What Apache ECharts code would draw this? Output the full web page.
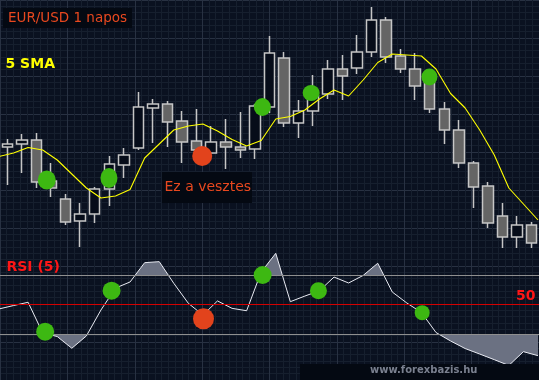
<!DOCTYPE html>
<html>
<head>
<meta charset="utf-8">
<script src="https://cdn.jsdelivr.net/npm/echarts@6/dist/echarts.min.js"></script>
<style>
html,body{margin:0;padding:0;background:#0a1120;}
#chart{width:539px;height:380px;}
</style>
</head>
<body>
<div id="chart"></div>
<script>
// ---- Price candles (EUR/USD daily) ----
const candleOpen  = [1.3003,1.3006,1.3010,1.2969,1.2951,1.2929,1.2936,1.2961,1.2985,1.3002,1.3042,1.3046,1.3029,1.3009,1.2997,1.3008,1.3003,1.3001,1.3043,1.3092,1.3027,1.3039,1.3056,1.3081,1.3082,1.3098,1.3130,1.3094,1.3081,1.3072,1.3041,1.3020,1.2987,1.2964,1.2934,1.2913,1.2925];
const candleClose = [1.3006,1.3010,1.2968,1.2962,1.2928,1.2936,1.2961,1.2986,1.2995,1.3043,1.3046,1.3028,1.3008,1.3000,1.3008,1.3003,1.3000,1.3044,1.3097,1.3027,1.3039,1.3054,1.3081,1.3074,1.3098,1.3130,1.3093,1.3081,1.3064,1.3041,1.3020,1.2987,1.2963,1.2927,1.2913,1.2925,1.2907];
const candleLow   = [1.2965,1.2977,1.2962,1.2953,1.2925,1.2903,1.2927,1.2944,1.2972,1.3000,1.3007,1.3003,1.2987,1.2990,1.2996,1.2981,1.2992,1.2991,1.3037,1.3023,1.3012,1.3024,1.3051,1.3050,1.3076,1.3093,1.3087,1.3077,1.3050,1.3037,1.3006,1.2982,1.2942,1.2922,1.2902,1.2902,1.2902];
const candleHigh  = [1.3011,1.3016,1.3017,1.2987,1.2956,1.2947,1.2963,1.2994,1.3002,1.3058,1.3051,1.3049,1.3039,1.3041,1.3024,1.3031,1.3038,1.3046,1.3114,1.3098,1.3050,1.3075,1.3090,1.3095,1.3115,1.3143,1.3133,1.3101,1.3097,1.3078,1.3048,1.3030,1.2989,1.2968,1.2947,1.2934,1.2928];

// ---- 5 SMA and RSI(5), first value belongs to the bar before the first candle ----
const lineStartIndex = -1;
const smaValues = [1.29935,1.2997,1.30025,1.3000,1.2990,1.2976,1.2962,1.2952,1.2954,1.29605,1.2992,1.3006,1.3020,1.3024,1.3026,1.3019,1.30105,1.3004,1.30095,1.3031,1.30335,1.3040,1.3051,1.3060,1.3054,1.3070,1.30875,1.3096,1.3095,1.3094,1.3081,1.30565,1.3042,1.3020,1.2995,1.2962,1.2946,1.2930];
const rsiValues = [47.1,49.4,51.6,30.9,28.5,20.6,28.9,46.4,61.2,65.3,78.3,79.0,64.4,50.9,43.0,52.5,47.5,45.9,72.0,84.6,52.0,55.8,59.4,68.6,64.6,69.7,77.9,58.5,51.1,44.7,31.2,25.5,20.4,16.7,12.9,9.0,18.3,15.6];
const rsiLevels = [70, 30];
const rsiMid = 50;

// ---- Signal markers ----
const priceSignalX = [2.28, 6.55, 17.08, 20.43, 28.55];
const priceSignalY = [1.2970, 1.2972, 1.3043, 1.3057, 1.3073];
const priceLoserX = [12.95];
const priceLoserY = [1.2994];
const rsiSignalX = [2.17, 6.73, 17.1, 20.93, 28.05];
const rsiSignalY = [31.8, 59.4, 70.0, 59.4, 44.6];
const rsiLoserX = [13.04];
const rsiLoserY = [40.5];

// ---- marker sizes (style) ----
const priceSignalSize = [[18,19],[17,20],[17,18],[17,16],[16,17]];
const rsiSignalSize = [18,18,18,17,15];

const days = candleOpen.map((_, i) => String(i + 1));
const candles = candleOpen.map((o, i) => [o, candleClose[i], candleLow[i], candleHigh[i]]);
const smaData = smaValues.map((v, j) => [j + lineStartIndex, v]);
const rsiData = rsiValues.map((v, j) => [j + lineStartIndex, v]);

const GREEN = '#3db812';
const RED = '#e2431c';
const hiddenVal = (grid, min, max) => ({gridIndex: grid, type: 'value', min: min, max: max, show: false});

const chart = echarts.init(document.getElementById('chart'));
chart.setOption({
  backgroundColor: '#0a1120',
  animation: false,
  grid: [
    {left: -23.2, right: -23.4, top: -16.7, height: 440},
    {left: -2, right: 0, top: 0, height: 250},
    {left: -2, right: 0, top: 230.5, height: 148.3},
    {left: -2, right: 0, top: 230.5, height: 44.49},
    {left: -2, right: 0, top: 334.3, height: 44.49}
  ],
  xAxis: [
    {gridIndex: 0, type: 'value', min: 0, max: 8, interval: 1,
     axisLine: {show: false}, axisTick: {show: false}, axisLabel: {show: false},
     splitLine: {show: true, lineStyle: {color: '#283142', width: 1}},
     minorTick: {show: false, splitNumber: 10},
     minorSplitLine: {show: true, lineStyle: {color: '#161f2e', width: 1}}},
    {gridIndex: 1, type: 'category', data: days, boundaryGap: true, show: false},
    hiddenVal(1, -0.93, 36.07),
    hiddenVal(2, -0.93, 36.07),
    hiddenVal(3, -0.93, 36.07),
    hiddenVal(4, -0.93, 36.07)
  ],
  yAxis: [
    {gridIndex: 0, type: 'value', min: 0, max: 10, interval: 1,
     axisLine: {show: false}, axisTick: {show: false}, axisLabel: {show: false},
     splitLine: {show: true, lineStyle: {color: '#283142', width: 1}},
     minorTick: {show: false, splitNumber: 6},
     minorSplitLine: {show: true, lineStyle: {color: '#161f2e', width: 1}}},
    hiddenVal(1, 1.2900, 1.3150),
    hiddenVal(2, 0, 100),
    hiddenVal(3, 70, 100),
    hiddenVal(4, 0, 30)
  ],
  series: [
    {type: 'candlestick', xAxisIndex: 1, yAxisIndex: 1, data: candles, barWidth: 11,
     itemStyle: {color: '#060c19', color0: '#656565', borderColor: '#c6c6c6', borderColor0: '#c6c6c6', borderWidth: 1.5},
     z: 3},
    {type: 'line', xAxisIndex: 2, yAxisIndex: 1, data: smaData, showSymbol: false,
     lineStyle: {color: '#ffff00', width: 1.1}, z: 4},
    {type: 'scatter', xAxisIndex: 2, yAxisIndex: 1, symbol: 'circle',
     data: priceSignalX.map((x, i) => ({value: [x, priceSignalY[i]], symbolSize: priceSignalSize[i]})),
     itemStyle: {color: GREEN, opacity: 1}, z: 6},
    {type: 'scatter', xAxisIndex: 2, yAxisIndex: 1, symbol: 'circle', symbolSize: 20,
     data: priceLoserX.map((x, i) => [x, priceLoserY[i]]),
     itemStyle: {color: RED, opacity: 1}, z: 6},
    {type: 'line', xAxisIndex: 4, yAxisIndex: 3, data: rsiData, showSymbol: false, clip: true,
     lineStyle: {width: 0.01, opacity: 0},
     areaStyle: {color: '#6b7182', opacity: 1, origin: 'start'}, z: 3},
    {type: 'line', xAxisIndex: 5, yAxisIndex: 4, data: rsiData, showSymbol: false, clip: true,
     lineStyle: {width: 0.01, opacity: 0},
     areaStyle: {color: '#6b7182', opacity: 1, origin: 'end'}, z: 3},
    {type: 'line', xAxisIndex: 3, yAxisIndex: 2, data: rsiData, showSymbol: false,
     lineStyle: {color: '#e8eaf2', width: 1}, z: 4,
     markLine: {silent: true, symbol: 'none', label: {show: false},
       data: [
         {yAxis: rsiLevels[0], lineStyle: {color: '#8f8f8f', width: 1, type: 'solid'}},
         {yAxis: rsiLevels[1], lineStyle: {color: '#8f8f8f', width: 1, type: 'solid'}},
         {yAxis: rsiMid, lineStyle: {color: '#d40000', width: 1, type: 'solid'}}
       ]}},
    {type: 'scatter', xAxisIndex: 3, yAxisIndex: 2, symbol: 'circle',
     data: rsiSignalX.map((x, i) => ({value: [x, rsiSignalY[i]], symbolSize: rsiSignalSize[i]})),
     itemStyle: {color: GREEN, opacity: 1}, z: 6},
    {type: 'scatter', xAxisIndex: 3, yAxisIndex: 2, symbol: 'circle', symbolSize: 21,
     data: rsiLoserX.map((x, i) => [x, rsiLoserY[i]]),
     itemStyle: {color: RED, opacity: 1}, z: 6}
  ],
  graphic: [
    {type: 'rect', shape: {x: 3, y: 8, width: 129, height: 20}, style: {fill: '#040912'}, z: 100},
    {type: 'text', x: 8, y: 18.3, z: 101,
     style: {text: 'EUR/USD 1 napos', fill: '#e8481f', font: '13.5px "DejaVu Sans"', verticalAlign: 'middle'}},
    {type: 'text', x: 5.5, y: 64.3, z: 101,
     style: {text: '5 SMA', fill: '#ffff00', font: 'bold 14px "DejaVu Sans"', verticalAlign: 'middle'}},
    {type: 'rect', shape: {x: 162, y: 172, width: 90, height: 31}, style: {fill: '#040912'}, z: 100},
    {type: 'text', x: 164.5, y: 187.7, z: 101,
     style: {text: 'Ez a vesztes', fill: '#e8481f', font: '14px "DejaVu Sans"', verticalAlign: 'middle'}},
    {type: 'text', x: 6.5, y: 267.5, z: 101,
     style: {text: 'RSI (5)', fill: '#ff1616', font: 'bold 14px "DejaVu Sans"', verticalAlign: 'middle'}},
    {type: 'text', x: 516, y: 296.7, z: 101,
     style: {text: '50', fill: '#ff1616', font: 'bold 14px "DejaVu Sans"', verticalAlign: 'middle'}},
    {type: 'rect', shape: {x: 300, y: 364, width: 239, height: 16}, style: {fill: '#040912'}, z: 100},
    {type: 'text', x: 370, y: 370.8, z: 101,
     style: {text: 'www.forexbazis.hu', fill: '#7a808f', font: 'bold 10px "DejaVu Sans"', verticalAlign: 'middle'}}
  ]
});
</script>
</body>
</html>
